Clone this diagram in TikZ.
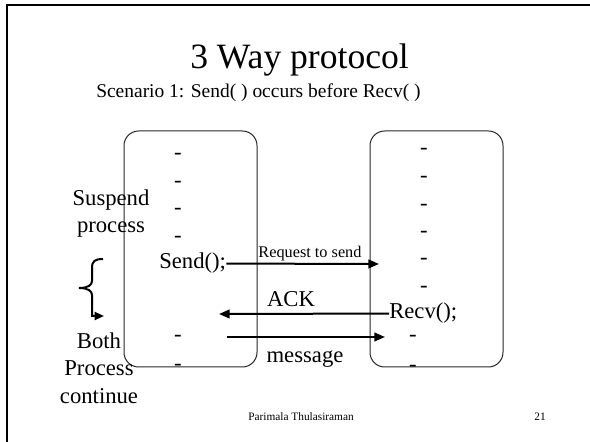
\documentclass[tikz,border=0pt]{standalone}
\usepackage{fontspec}
\setmainfont{Liberation Serif}
\usetikzlibrary{arrows.meta}
\tikzset{
  slidetext/.style={font=\fontsize{17}{20.3}\selectfont, inner sep=0pt, align=center},
  smalltext/.style={font=\fontsize{12.2}{14}\selectfont, inner sep=0pt},
  foottext/.style={font=\fontsize{8.5}{10}\selectfont, inner sep=0pt, anchor=base},
  procbox/.style={draw=black!85, line width=0.75pt, rounded corners=11pt,
    minimum width=99.75pt, minimum height=177pt, inner sep=0pt},
  msgline/.style={line width=1.5pt, -{Triangle[length=8pt,width=6.5pt]}},
}
\begin{document}
\begin{tikzpicture}[x=0.75pt,y=-0.75pt]
\useasboundingbox (0,0) rectangle (590,442);
% slide frame
\draw[line width=1.6pt] (7,442) -- (7,5) -- (590,5);
% headings
\node[font=\fontsize{26.7}{32}\selectfont, anchor=base west, inner sep=0pt] (title) at (190,69) {3 Way protocol};
\node[font=\fontsize{14.6}{17}\selectfont, anchor=base west, inner sep=0pt] (scenario) at (96,98) {Scenario 1: Send( ) occurs before Recv( )};
% the two processes
\node[procbox] (sender) at (190.5,249) {};
\node[procbox] (receiver) at (436.5,249) {};
\foreach \y [count=\i] in {155,183,210,238,337,366}
  \node[slidetext, anchor=base] (ldash\i) at (178,\y+5) {-};
\foreach \y [count=\i] in {150,178,206,233,260,288}
  \node[slidetext, anchor=base] (rdash\i) at (424,\y+5) {-};
\foreach \y [count=\i] in {337,367}
  \node[slidetext, anchor=base] (rlow\i) at (413,\y+5) {-};
\node[slidetext, anchor=base west] (send) at (159,269) {Send();};
\node[slidetext, anchor=base west] (recv) at (389,319) {Recv();};
% messages
\coordinate (rqend) at (379,264);
\coordinate (ackend) at (219,314);
\coordinate (msgstart) at (227,337);
\coordinate (msgend) at (385,337);
\draw[msgline] (send.east) -- (rqend);
\draw[msgline] (recv.west) -- (ackend);
\draw[msgline] (msgstart) -- (msgend);
\node[smalltext, anchor=base] (rqlabel) at (310,258) {Request to send};
\node[slidetext, anchor=base] (acklabel) at (291,307) {ACK};
\node[slidetext, anchor=base] (msglabel) at (305,363) {message};
% side notes
\node[slidetext, anchor=base] (suspend) at (111,233) {Suspend\\process};
\node[slidetext, anchor=base] (both) at (99,403) {Both\\Process\\continue};
\draw[line width=1.5pt, -{Triangle[length=7pt,width=6pt]}] (103,259) .. controls (95,259) and (92,261) .. (92,268) -- (92,281)
  .. controls (92,285) and (88,288) .. (79,288) .. controls (88,288) and (92,291) .. (92,295) -- (92,316) -- (104,316);
% footer
\node[foottext] (author) at (301,421) {Parimala Thulasiraman};
\node[foottext] (page) at (540,421) {21};
\end{tikzpicture}
\end{document}
